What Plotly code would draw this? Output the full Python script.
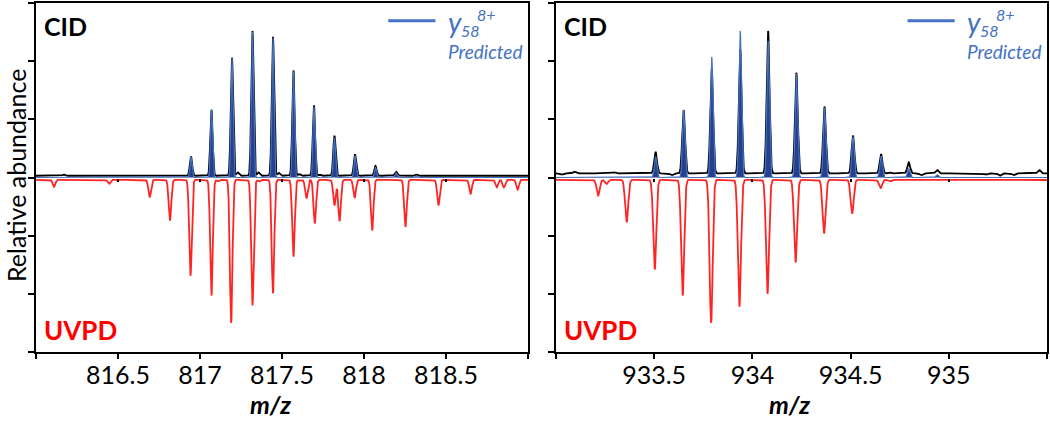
import numpy as np
import plotly.graph_objects as go

# ---------------- data ----------------
# Left panel (m/z 816-819)
cid1_mz = [816.17, 816.945, 817.07, 817.195, 817.32, 817.445, 817.57, 817.695, 817.82, 817.945,
           818.07, 818.195, 818.32, 817.23, 817.356, 817.48, 817.605, 817.73, 816.60, 818.72]
cid1_int = [0.05, 0.36, 1.16, 2.06, 2.52, 2.42, 1.84, 1.24, 0.72, 0.40,
            0.20, 0.10, 0.05, 0.09, 0.09, 0.08, 0.06, 0.05, 0.02, 0.02]
cid1_base = 0.03

pred1_mz = [816.945, 817.07, 817.195, 817.32, 817.445, 817.57, 817.695, 817.82, 817.945, 818.07, 818.195, 818.32]
pred1_int = [0.36, 1.17, 2.06, 2.50, 2.40, 1.82, 1.22, 0.68, 0.38, 0.17, 0.08, 0.03]

uvpd1_mz = [816.11, 816.445, 816.693, 816.817, 816.942, 817.07, 817.19, 817.32, 817.445, 817.57,
            817.649, 817.70, 817.82, 817.851, 817.943, 818.05, 818.253, 818.454, 818.65, 818.81,
            818.853, 818.937, 816.03, 816.25, 816.55, 817.11, 817.36, 817.61, 818.35, 818.55]
uvpd1_int = [-0.16, -0.11, -0.34, -0.74, -1.69, -2.03, -2.50, -2.20, -1.99, -1.36,
             -0.36, -0.79, -0.48, -0.75, -0.35, -0.91, -0.85, -0.48, -0.28, -0.17,
             -0.17, -0.21, -0.05, -0.05, -0.04, -0.07, -0.07, -0.06, -0.04, -0.04]
uvpd1_base = -0.04

# Right panel (m/z 933-935.5)
cid2_mz = [933.507, 933.65, 933.793, 933.938, 934.08, 934.224, 934.367, 934.512, 934.655, 934.796,
           934.94, 933.094, 933.196, 933.296, 933.395, 933.59, 934.697, 935.05, 935.19, 935.33,
           935.46, 933.03, 934.86, 935.26]
cid2_int = [0.44, 1.16, 1.86, 2.20, 2.52, 1.80, 1.22, 0.72, 0.40, 0.26,
            0.13, 0.10, 0.07, 0.09, 0.07, 0.04, 0.09, 0.06, 0.05, 0.04,
            0.13, 0.05, 0.04, 0.03]
cid2_base = 0.07

pred2_mz = [933.507, 933.65, 933.793, 933.938, 934.08, 934.224, 934.367, 934.512, 934.655, 934.796, 934.94]
pred2_int = [0.36, 1.16, 2.07, 2.52, 2.35, 1.78, 1.20, 0.70, 0.37, 0.15, 0.05]

uvpd2_mz = [933.215, 933.258, 933.36, 933.503, 933.645, 933.79, 933.934, 934.077, 934.22, 934.365,
            934.508, 934.653, 935.52, 933.05, 933.12, 934.70, 934.95, 935.25]
uvpd2_int = [-0.31, -0.11, -0.77, -1.58, -2.03, -2.50, -2.22, -2.00, -1.46, -0.96,
             -0.62, -0.18, -0.20, -0.05, -0.04, -0.07, -0.04, -0.03]
uvpd2_base = -0.04

x1_range = [816.0, 819.0]
x2_range = [933.0, 935.5]
x1_ticks = [816.0, 816.5, 817.0, 817.5, 818.0, 818.5, 819.0]
x1_labels = ["", "816.5", "817", "817.5", "818", "818.5", ""]
x2_ticks = [933.0, 933.5, 934.0, 934.5, 935.0, 935.5]
x2_labels = ["", "933.5", "934", "934.5", "935", ""]
y_ticks = [-3, -2, -1, 0, 1, 2, 3]

# ---------------- profile rendering ----------------
SIGMA = 0.0072


def profile(grid, mzs, ints, base, sigma=SIGMA):
    y = np.full_like(grid, base, dtype=float)
    for m, h in zip(mzs, ints):
        y += (h - base) * np.exp(-0.5 * ((grid - m) / sigma) ** 2)
    return y


g1 = np.arange(x1_range[0], x1_range[1] + 0.0005, 0.001)
g2 = np.arange(x2_range[0], x2_range[1] + 0.0005, 0.001)

RED = "#FF2424"
BLUE = "#4472C4"
FILL = "#26408E"
FONT = "Lato"

fig = go.Figure()

for g, (um, ui, ub), (cm, ci, cb), (pm, pi), xa, ya in [
    (g1, (uvpd1_mz, uvpd1_int, uvpd1_base), (cid1_mz, cid1_int, cid1_base), (pred1_mz, pred1_int), "x", "y"),
    (g2, (uvpd2_mz, uvpd2_int, uvpd2_base), (cid2_mz, cid2_int, cid2_base), (pred2_mz, pred2_int), "x2", "y2"),
]:
    fig.add_trace(go.Scatter(x=g, y=profile(g, um, ui, ub, 0.0078), mode="lines",
                             line=dict(color=RED, width=1.8), xaxis=xa, yaxis=ya, showlegend=False))
    fig.add_trace(go.Scatter(x=g, y=profile(g, cm, ci, cb), mode="lines",
                             line=dict(color="black", width=1.8), xaxis=xa, yaxis=ya, showlegend=False))
    fig.add_trace(go.Scatter(x=g, y=profile(g, pm, pi, 0.0, 0.0062), mode="lines", fill="tozeroy",
                             fillcolor=FILL, line=dict(color=BLUE, width=1.2),
                             xaxis=xa, yaxis=ya, showlegend=False))

axis_common = dict(showline=True, linecolor="black", linewidth=2, mirror=True,
                   ticks="outside", tickcolor="black", tickwidth=2, showgrid=False, zeroline=False)

fig.update_layout(
    width=1050, height=421,
    margin=dict(l=36, r=3, t=1, b=69),
    paper_bgcolor="white", plot_bgcolor="white",
    font=dict(family=FONT, color="black"),
    xaxis=dict(domain=[0, 0.4866], range=x1_range, tickvals=x1_ticks, ticktext=x1_labels,
               ticklen=5, ticklabelstandoff=-5, tickfont=dict(size=25), **axis_common),
    yaxis=dict(domain=[0, 1], range=[-3, 3], tickvals=y_ticks, showticklabels=False,
               ticklen=6, **axis_common),
    xaxis2=dict(domain=[0.5143, 1], range=x2_range, tickvals=x2_ticks, ticktext=x2_labels,
                ticklen=5, ticklabelstandoff=-5, tickfont=dict(size=25), anchor="y2", **axis_common),
    yaxis2=dict(domain=[0, 1], range=[-3, 3], tickvals=y_ticks, showticklabels=False,
                ticklen=6, anchor="x2", **axis_common),
    # small ticks on the zero line
    xaxis3=dict(overlaying="x", anchor="free", position=0.5, range=x1_range, tickvals=x1_ticks[1:-1],
                showticklabels=False, ticks="outside", ticklen=3, tickwidth=1.5, tickcolor="black",
                showline=False, showgrid=False, zeroline=False),
    xaxis4=dict(overlaying="x2", anchor="free", position=0.5, range=x2_range, tickvals=x2_ticks[1:-1],
                showticklabels=False, ticks="outside", ticklen=3, tickwidth=1.5, tickcolor="black",
                showline=False, showgrid=False, zeroline=False),
)

# dummy traces to activate the zero-line tick axes
fig.add_trace(go.Scatter(x=[x1_range[0]], y=[0], xaxis="x3", yaxis="y", mode="markers",
                         marker=dict(opacity=0), showlegend=False, hoverinfo="skip"))
fig.add_trace(go.Scatter(x=[x2_range[0]], y=[0], xaxis="x4", yaxis="y2", mode="markers",
                         marker=dict(opacity=0), showlegend=False, hoverinfo="skip"))

ann = []
shapes = []
for xd, yd in [("x domain", "y domain"), ("x2 domain", "y2 domain")]:
    ann += [
        dict(text="<b>CID</b>", x=0.012, y=0.934, xref=xd, yref=yd, xanchor="left", yanchor="middle",
             showarrow=False, font=dict(size=25, color="black")),
        dict(text="<b>UVPD</b>", x=0.013, y=0.063, xref=xd, yref=yd, xanchor="left", yanchor="middle",
             showarrow=False, font=dict(size=26, color="#FF0000")),
        dict(text="<i>y</i>", x=0.834, y=0.946, xref=xd, yref=yd, xanchor="left", yanchor="middle",
             showarrow=False, font=dict(size=28, color=BLUE)),
        dict(text="<i>58</i>", x=0.860, y=0.922, xref=xd, yref=yd, xanchor="left", yanchor="middle",
             showarrow=False, font=dict(size=16, color=BLUE)),
        dict(text="<i>8+</i>", x=0.892, y=0.968, xref=xd, yref=yd, xanchor="left", yanchor="middle",
             showarrow=False, font=dict(size=16, color=BLUE)),
        dict(text="<i>Predicted</i>", x=0.834, y=0.860, xref=xd, yref=yd, xanchor="left", yanchor="middle",
             showarrow=False, font=dict(size=19, color=BLUE)),
        dict(text="<b><i>m/z</i></b>", x=0.476, y=-0.150, xref=xd, yref=yd, xanchor="center",
             yanchor="middle", showarrow=False, font=dict(size=25, color="black")),
    ]
    shapes.append(dict(type="line", xref=xd, yref=yd, x0=0.716, x1=0.812, y0=0.949, y1=0.949,
                       line=dict(color=BLUE, width=3)))

ann.append(dict(text="Relative abundance", x=-0.0205, y=0.505, xref="paper", yref="paper",
                xanchor="center", yanchor="middle", textangle=-90, showarrow=False,
                font=dict(size=25, color="black")))

fig.update_layout(annotations=ann, shapes=shapes)
fig.write_html("out.html", config={"displayModeBar": False},
               post_script="document.body.style.margin='0px';document.body.style.overflow='hidden';")
